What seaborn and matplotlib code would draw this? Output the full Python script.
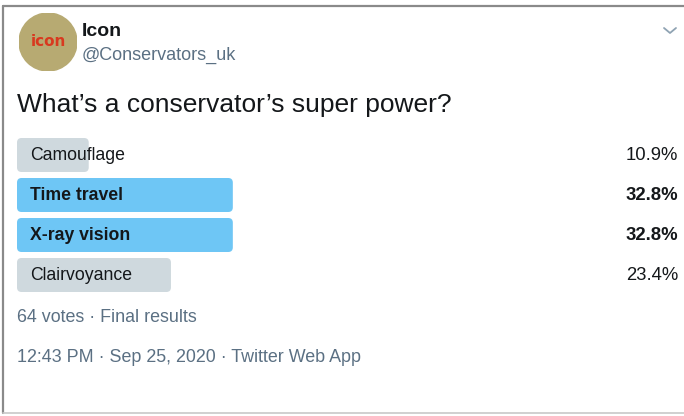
import matplotlib
matplotlib.use("Agg")
import matplotlib.pyplot as plt
import seaborn as sns
import pandas as pd
from matplotlib.patches import FancyBboxPatch, Circle
from matplotlib.lines import Line2D

# poll data
options = ["Camouflage", "Time travel", "X-ray vision", "Clairvoyance"]
percents = [10.9, 32.8, 32.8, 23.4]
votes = 64
account_name = "Icon"
account_handle = "@Conservators_uk"
question = "What\u2019s a conservator\u2019s super power?"
status = "Final results"
timestamp = "12:43 PM \u00b7 Sep 25, 2020 \u00b7 Twitter Web App"

W, H = 684, 416
def fx(x):
    return x / W
def fy(y):
    return 1 - y / H

sns.set_theme(style="white")
plt.rcParams["font.family"] = ["Liberation Sans", "DejaVu Sans"]

dark = "#14171a"
muted = "#5b7083"
blue = "#6ec6f5"
grey = "#cfd9de"

fig = plt.figure(figsize=(W / 100, H / 100), dpi=100)
fig.patch.set_facecolor("white")

# card border
fig.add_artist(Line2D([fx(3), fx(684)], [fy(6), fy(6)], color="#8a8a8a", lw=1.6))
fig.add_artist(Line2D([fx(3), fx(3)], [fy(6), fy(413)], color="#8a8a8a", lw=1.6))
fig.add_artist(Line2D([fx(3), fx(684)], [fy(413), fy(413)], color="#c8c8c8", lw=1.2))

# avatar
av = fig.add_axes([fx(19), fy(71), fx(58), 58 / H])
av.set_xlim(-1, 1)
av.set_ylim(-1, 1)
av.set_aspect("equal")
av.axis("off")
av.add_patch(Circle((0, 0), 1, color="#b7aa72"))
av.text(0, 0.0, "icon", ha="center", va="center", color="#d8391f",
        fontsize=11, fontweight="bold", family="DejaVu Sans")

fig.text(fx(82), fy(32), account_name, ha="left", va="center", color=dark,
         fontsize=14, fontweight="bold")
fig.text(fx(82), fy(55), account_handle, ha="left", va="center", color=muted,
         fontsize=13)

# chevron
fig.add_artist(Line2D([fx(664), fx(670), fx(676)], [fy(28), fy(33), fy(28)],
                      color="#8fa3b3", lw=1.3))

fig.text(fx(17), fy(105), question, ha="left", va="center", color=dark,
         fontsize=19)

# poll bars
df = pd.DataFrame({"option": options, "percent": percents})
winner = max(percents)
palette = [blue if p == winner else grey for p in percents]

ax = fig.add_axes([fx(17), 1 - 295 / H, 658 / W, 160 / H])
sns.barplot(data=df, x="percent", y="option", hue="option", palette=palette,
            legend=False, width=0.85, saturation=1, ax=ax, orient="h")
ax.set_xlim(0, 100)
ax.set_ylim(3.5, -0.5)
ax.axis("off")

# rounded bar corners
x_per_px = 100 / 658
y_per_px = 4 / 160
for bar in list(ax.patches):
    x0, y0 = bar.get_x(), bar.get_y()
    w, h = bar.get_width(), bar.get_height()
    col = bar.get_facecolor()
    bar.set_visible(False)
    ax.add_patch(FancyBboxPatch((x0, y0), w, h,
                                boxstyle="round,pad=0,rounding_size=0.7",
                                mutation_aspect=y_per_px / x_per_px,
                                facecolor=col, edgecolor="none"))

for i, (opt, p) in enumerate(zip(options, percents)):
    weight = "bold" if p == winner else "normal"
    ax.text(13 * x_per_px, i, opt, ha="left", va="center", color=dark,
            fontsize=12.7, fontweight=weight)
    ax.text(100.5, i, f"{p}%", ha="right", va="center", color=dark,
            fontsize=13.3, fontweight=weight, clip_on=False)

fig.text(fx(17), fy(318), f"{votes} votes \u00b7 {status}", ha="left", va="center",
         color=muted, fontsize=12.9)
fig.text(fx(17), fy(357), timestamp, ha="left", va="center", color=muted,
         fontsize=12.9)

fig.savefig("out.png", dpi=100, facecolor="white")
